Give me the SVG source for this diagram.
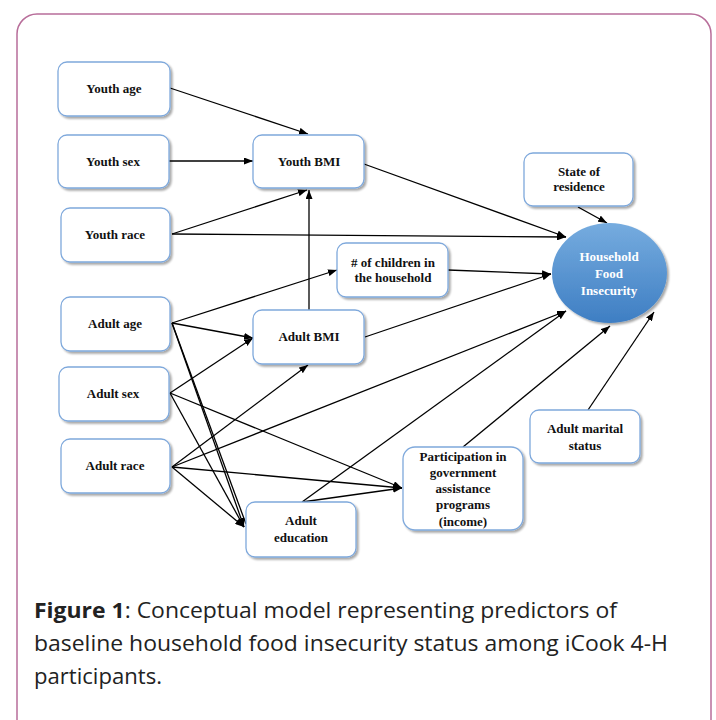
<svg xmlns="http://www.w3.org/2000/svg" width="716" height="720" viewBox="0 0 716 720">
<defs>
<style>
.box{fill:#fff;stroke:#7fa9dc;stroke-width:1.3}
.lbl{font-family:"Liberation Serif","Times New Roman",serif;font-weight:bold;font-size:13px;fill:#111;text-anchor:middle}
.wl{font-family:"Liberation Serif","Times New Roman",serif;font-weight:bold;font-size:13px;fill:#fff;text-anchor:middle}
.cn line{stroke:#000;stroke-width:1.3;fill:none}
.cap{font-family:"Open Sans","Noto Sans",sans-serif;font-size:22px;fill:#222}
</style>
<marker id="ah" viewBox="0 0 9 7" markerWidth="9" markerHeight="7" refX="9" refY="3.5" orient="auto" markerUnits="userSpaceOnUse">
<path d="M0,0 L9,3.5 L0,7 z" fill="#000"/>
</marker>
<filter id="sh" x="-10%" y="-10%" width="130%" height="130%">
<feGaussianBlur in="SourceAlpha" stdDeviation="1.2"/>
<feOffset dx="2" dy="2" result="o"/>
<feComponentTransfer><feFuncA type="linear" slope="0.35"/></feComponentTransfer>
<feMerge><feMergeNode/><feMergeNode in="SourceGraphic"/></feMerge>
</filter>
<linearGradient id="eg" x1="0" y1="0" x2="0" y2="1">
<stop offset="0" stop-color="#76acdf"/>
<stop offset="1" stop-color="#3e7ec3"/>
</linearGradient>
</defs>
<rect x="0" y="0" width="716" height="720" fill="#fff"/>
<rect x="17" y="14" width="694" height="730" rx="20" ry="20" fill="none" stroke="#b86e9a" stroke-width="1.5"/>

<g id="connectors" class="cn">
<line x1="170" y1="88" x2="308" y2="134" marker-end="url(#ah)"/>
<line x1="169" y1="161" x2="253" y2="161" marker-end="url(#ah)"/>
<line x1="172" y1="234" x2="307" y2="190" marker-end="url(#ah)"/>
<line x1="172" y1="234" x2="566" y2="237" marker-end="url(#ah)"/>
<line x1="364" y1="164" x2="566" y2="237" marker-end="url(#ah)"/>
<line x1="309" y1="310" x2="309" y2="190" marker-end="url(#ah)"/>
<line x1="578" y1="207" x2="607" y2="223" marker-end="url(#ah)"/>
<line x1="448" y1="270" x2="551" y2="274" marker-end="url(#ah)"/>
<line x1="365" y1="337" x2="551" y2="274" marker-end="url(#ah)"/>
<line x1="172" y1="323" x2="337" y2="270" marker-end="url(#ah)"/>
<line x1="172" y1="323" x2="253" y2="338" marker-end="url(#ah)"/>
<line x1="172" y1="323" x2="244" y2="527" marker-end="url(#ah)"/>
<line x1="172" y1="323" x2="246" y2="524"/>
<line x1="170" y1="393" x2="253" y2="338" marker-end="url(#ah)"/>
<line x1="170" y1="393" x2="402" y2="488" marker-end="url(#ah)"/>
<line x1="170" y1="393" x2="244" y2="527" marker-end="url(#ah)"/>
<line x1="172" y1="467" x2="308" y2="365" marker-end="url(#ah)"/>
<line x1="172" y1="467" x2="566" y2="311" marker-end="url(#ah)"/>
<line x1="172" y1="467" x2="402" y2="488" marker-end="url(#ah)"/>
<line x1="172" y1="467" x2="244" y2="527" marker-end="url(#ah)"/>
<line x1="302" y1="502" x2="566" y2="311" marker-end="url(#ah)"/>
<line x1="302" y1="502" x2="402" y2="488" marker-end="url(#ah)"/>
<line x1="463" y1="447" x2="610" y2="326" marker-end="url(#ah)"/>
<line x1="588" y1="410" x2="654" y2="312" marker-end="url(#ah)"/>
</g>

<g id="youth-age"><rect class="box" x="58" y="62" width="112" height="54" rx="9" filter="url(#sh)"/><text class="lbl" x="114" y="93">Youth age</text></g>
<g id="youth-sex"><rect class="box" x="58" y="135" width="111" height="53" rx="9" filter="url(#sh)"/><text class="lbl" x="113" y="166">Youth sex</text></g>
<g id="youth-race"><rect class="box" x="61" y="208" width="109" height="54" rx="9" filter="url(#sh)"/><text class="lbl" x="115" y="239">Youth race</text></g>
<g id="youth-bmi"><rect class="box" x="253" y="135" width="111" height="53" rx="9" filter="url(#sh)"/><text class="lbl" x="309" y="166">Youth BMI</text></g>
<g id="adult-age"><rect class="box" x="61" y="297" width="109" height="54" rx="9" filter="url(#sh)"/><text class="lbl" x="115" y="328">Adult age</text></g>
<g id="adult-sex"><rect class="box" x="59" y="367" width="110" height="54" rx="9" filter="url(#sh)"/><text class="lbl" x="113" y="398">Adult sex</text></g>
<g id="adult-race"><rect class="box" x="61" y="439" width="109" height="54" rx="9" filter="url(#sh)"/><text class="lbl" x="115" y="470">Adult race</text></g>
<g id="adult-bmi"><rect class="box" x="253" y="310" width="111" height="54" rx="9" filter="url(#sh)"/><text class="lbl" x="309" y="341">Adult BMI</text></g>
<g id="adult-education"><rect class="box" x="246" y="502" width="110" height="55" rx="9" filter="url(#sh)"/><text class="lbl" x="301" y="525">Adult</text><text class="lbl" x="301" y="542">education</text></g>
<g id="children"><rect class="box" x="337" y="243" width="111" height="54" rx="9" filter="url(#sh)"/><text class="lbl" x="393" y="267"># of children in</text><text class="lbl" x="393" y="282">the household</text></g>
<g id="state"><rect class="box" x="524" y="153" width="109" height="53" rx="9" filter="url(#sh)"/><text class="lbl" x="579" y="176">State of</text><text class="lbl" x="579" y="191">residence</text></g>
<g id="participation"><rect class="box" x="403" y="447" width="120" height="83" rx="12" filter="url(#sh)"/><text class="lbl" x="463" y="461">Participation in</text><text class="lbl" x="463" y="477">government</text><text class="lbl" x="463" y="493">assistance</text><text class="lbl" x="463" y="509">programs</text><text class="lbl" x="463" y="526">(income)</text></g>
<g id="marital"><rect class="box" x="530" y="410" width="110" height="53" rx="9" filter="url(#sh)"/><text class="lbl" x="585" y="433">Adult marital</text><text class="lbl" x="585" y="450">status</text></g>
<g id="food-insecurity"><ellipse cx="609.5" cy="273" rx="57.5" ry="50" fill="url(#eg)" filter="url(#sh)"/><text class="wl" x="609" y="261">Household</text><text class="wl" x="609" y="278">Food</text><text class="wl" x="609" y="295">Insecurity</text></g>

<g id="caption">
<text class="cap" x="34" y="618" textLength="583" lengthAdjust="spacingAndGlyphs"><tspan font-weight="bold">Figure 1</tspan>: Conceptual model representing predictors of</text>
<text class="cap" x="34" y="651" textLength="634" lengthAdjust="spacingAndGlyphs">baseline household food insecurity status among iCook 4-H</text>
<text class="cap" x="34" y="684" textLength="128" lengthAdjust="spacingAndGlyphs">participants.</text>
</g>
</svg>
